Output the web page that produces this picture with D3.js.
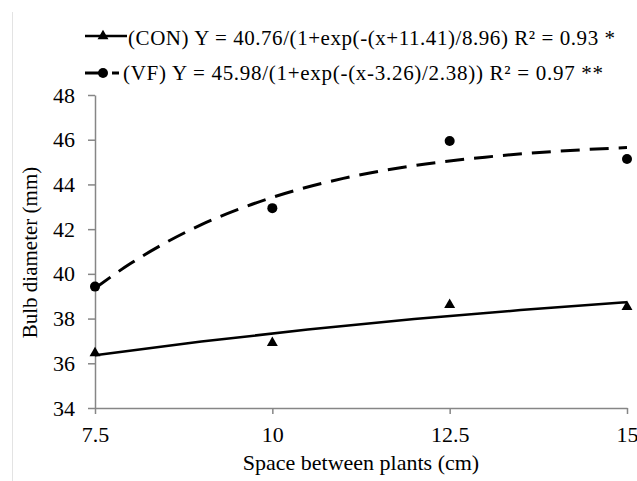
<!DOCTYPE html>
<html>
<head>
<meta charset="utf-8">
<script src="https://cdn.jsdelivr.net/npm/d3@7"></script>
<style>
  body { margin: 0; background: #fff; }
</style>
</head>
<body>
<svg width="637" height="481"></svg>
<script>
"use strict";
// observed means
var spacing = [7.5, 10, 12.5, 15];
var conValues = [36.46, 36.92, 38.61, 38.53];
var vfValues = [39.43, 42.94, 45.94, 45.14];

// fitted curves
var conFitX = [7.5, 9, 10.5, 12, 13.5, 15];
var conFitY = [36.36, 36.97, 37.51, 37.98, 38.38, 38.73];
var vfFitX = [7.5, 8, 8.5, 9, 9.5, 10, 11, 12, 13, 14, 15];
var vfFitY = [39.36, 40.46, 41.40, 42.20, 42.86, 43.42, 44.27, 44.84, 45.22, 45.48, 45.65];

var xTicks = [7.5, 10, 12.5, 15];
var yTicks = [34, 36, 38, 40, 42, 44, 46, 48];
var legendLabels = [
    "(CON) Y = 40.76/(1+exp(-(x+11.41)/8.96) R\u00B2 = 0.93 *",
    "(VF) Y = 45.98/(1+exp(-(x-3.26)/2.38)) R\u00B2 = 0.97 **"
];

var font = "'Liberation Serif'";

var svg = d3.select("svg"),
    margin = { top: 95, right: 10, bottom: 73, left: 95 },
    width = +svg.attr("width") - margin.left - margin.right,
    height = +svg.attr("height") - margin.top - margin.bottom;

var x = d3.scaleLinear().domain([7.5, 15]).range([0, width]),
    y = d3.scaleLinear().domain([34, 48]).range([height, 0]);

var axisColor = "#868686";

// faint frame edge on the left
svg.append("line")
    .attr("x1", 12.5).attr("x2", 12.5)
    .attr("y1", 12).attr("y2", 481)
    .attr("stroke", "#e3e3e3").attr("stroke-width", 1);

var g = svg.append("g")
    .attr("transform", "translate(" + margin.left + "," + margin.top + ")");

// axes
var xAxis = g.append("g")
    .attr("transform", "translate(0," + height + ")")
    .call(d3.axisBottom(x).tickValues(xTicks).tickSize(6).tickSizeOuter(0).tickPadding(13)
        .tickFormat(function (d) { return String(d); }));

var yAxis = g.append("g")
    .call(d3.axisLeft(y).tickValues(yTicks).tickSize(7).tickSizeOuter(0).tickPadding(13));

[xAxis, yAxis].forEach(function (a) {
    a.attr("font-family", null).attr("font-size", null);
    a.select(".domain").attr("stroke", axisColor).attr("stroke-width", 1.5);
    a.selectAll(".tick line").attr("stroke", axisColor).attr("stroke-width", 1.5);
    a.selectAll(".tick text").attr("fill", "#000")
        .style("font-family", font).attr("font-size", 22);
});
xAxis.selectAll(".tick text").attr("dy", "0.68em");

// axis titles
svg.append("text")
    .attr("x", margin.left + width / 2)
    .attr("y", 470)
    .attr("text-anchor", "middle")
    .style("font-family", font).attr("font-size", 22)
    .text("Space between plants (cm)");

svg.append("text")
    .attr("transform", "translate(37," + (margin.top + height / 2 + 1) + ") rotate(-90)")
    .attr("text-anchor", "middle")
    .style("font-family", font).attr("font-size", 21)
    .text("Bulb diameter (mm)");

// curves
var line = d3.line()
    .x(function (d) { return x(d[0]); })
    .y(function (d) { return y(d[1]); })
    .curve(d3.curveMonotoneX);

g.append("path")
    .datum(d3.zip(conFitX, conFitY))
    .attr("fill", "none").attr("stroke", "#000").attr("stroke-width", 2.5)
    .attr("d", line);

g.append("path")
    .datum(d3.zip(vfFitX, vfFitY))
    .attr("fill", "none").attr("stroke", "#000").attr("stroke-width", 3)
    .attr("stroke-dasharray", "19,10")
    .attr("d", line);

var tri = d3.symbol().type(d3.symbolTriangle).size(52);

g.selectAll(".con")
    .data(d3.zip(spacing, conValues))
    .enter().append("path")
    .attr("class", "con")
    .attr("transform", function (d) { return "translate(" + x(d[0]) + "," + y(d[1]) + ")"; })
    .attr("d", tri)
    .attr("fill", "#000");

g.selectAll(".vf")
    .data(d3.zip(spacing, vfValues))
    .enter().append("circle")
    .attr("class", "vf")
    .attr("cx", function (d) { return x(d[0]); })
    .attr("cy", function (d) { return y(d[1]); })
    .attr("r", 5)
    .attr("fill", "#000");

// legend
var legend = svg.append("g");
var legendLineY = [36, 73],
    legendTextY = [45, 80],
    legendTextX = [128, 123],
    legendWidth = [487, 480];

legendLabels.forEach(function (label, i) {
    if (i === 0) {
        legend.append("line").attr("x1", 85).attr("x2", 127)
            .attr("y1", legendLineY[i]).attr("y2", legendLineY[i])
            .attr("stroke", "#000").attr("stroke-width", 2.5);
        legend.append("path").attr("transform", "translate(103," + legendLineY[i] + ")")
            .attr("d", tri).attr("fill", "#000");
    } else {
        legend.append("line").attr("x1", 85).attr("x2", 119)
            .attr("y1", legendLineY[i]).attr("y2", legendLineY[i])
            .attr("stroke", "#000").attr("stroke-width", 3)
            .attr("stroke-dasharray", "18,9");
        legend.append("circle").attr("cx", 103).attr("cy", legendLineY[i]).attr("r", 5).attr("fill", "#000");
    }
    legend.append("text")
        .attr("x", legendTextX[i]).attr("y", legendTextY[i])
        .attr("textLength", legendWidth[i]).attr("lengthAdjust", "spacing")
        .style("font-family", font).attr("font-size", 21)
        .text(label);
});
</script>
</body>
</html>
